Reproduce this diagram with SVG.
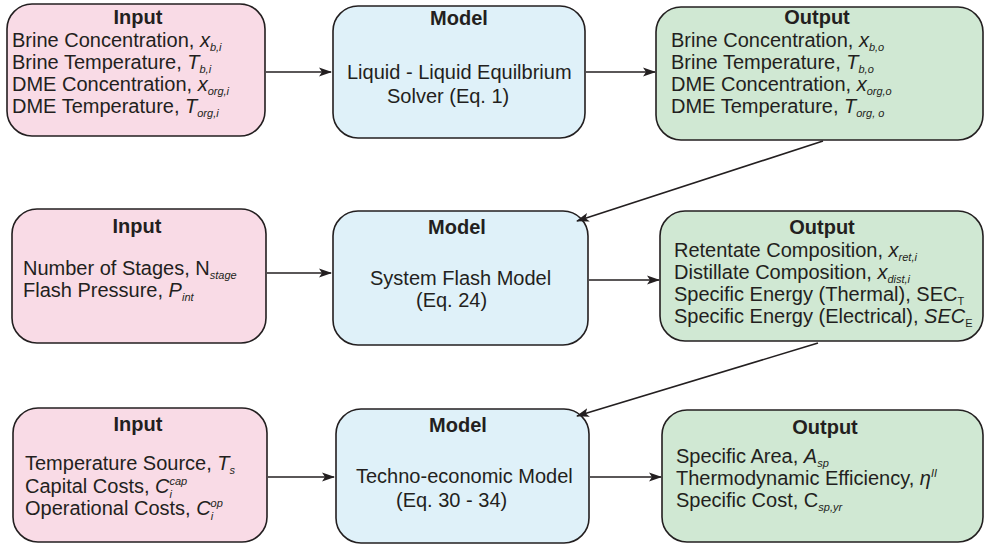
<svg xmlns="http://www.w3.org/2000/svg" width="985" height="544" viewBox="0 0 985 544">
  <style>
    text { font-family: "Liberation Sans", Arial, sans-serif; font-size: 20px; fill: #231f20; }
    .title { font-weight: bold; text-anchor: middle; }
    .box { stroke: #231f20; stroke-width: 1.6; }
    .in { fill: #f9dbe6; }
    .mod { fill: #dff1f9; }
    .out { fill: #d0e8d3; }
    .i { font-style: italic; }
    .s { font-size: 11px; font-style: italic; }
    .su { font-size: 11px; }
    .conn { stroke: #231f20; stroke-width: 1.6; fill: none; marker-end: url(#arr); }
  </style>
  <defs>
    <marker id="arr" viewBox="0 0 13 10" refX="12" refY="5" markerWidth="13" markerHeight="10" markerUnits="userSpaceOnUse" orient="auto">
      <path d="M0,0.5 L13,5 L0,9.5 L3,5 Z" fill="#231f20"/>
    </marker>
  </defs>

  <!-- Stage 1: liquid-liquid equilibrium -->
  <g id="input1">
    <rect class="box in" x="7" y="4" width="258" height="132" rx="25"/>
    <text class="title" x="138" y="24">Input</text>
    <text x="12" y="47">Brine Concentration, <tspan class="i">x</tspan><tspan class="s" dy="4">b,i</tspan></text>
    <text x="12" y="69">Brine Temperature, <tspan class="i">T</tspan><tspan class="s" dy="4">b,i</tspan></text>
    <text x="12" y="91">DME Concentration, <tspan class="i">x</tspan><tspan class="s" dy="4">org,i</tspan></text>
    <text x="12" y="113">DME Temperature, <tspan class="i">T</tspan><tspan class="s" dy="4">org,i</tspan></text>
  </g>
  <g id="model1">
    <rect class="box mod" x="333" y="6" width="252" height="132" rx="25"/>
    <text class="title" x="459" y="25">Model</text>
    <text x="347" y="79">Liquid - Liquid Equilbrium</text>
    <text x="387" y="103">Solver (Eq. 1)</text>
  </g>
  <g id="output1">
    <rect class="box out" x="656" y="7" width="327" height="133" rx="25"/>
    <text class="title" x="817" y="24">Output</text>
    <text x="671" y="47">Brine Concentration, <tspan class="i">x</tspan><tspan class="s" dy="4">b,o</tspan></text>
    <text x="671" y="69">Brine Temperature, <tspan class="i">T</tspan><tspan class="s" dy="4">b,o</tspan></text>
    <text x="671" y="91">DME Concentration, <tspan class="i">x</tspan><tspan class="s" dy="4">org,o</tspan></text>
    <text x="671" y="113">DME Temperature, <tspan class="i">T</tspan><tspan class="s" dy="4">org, o</tspan></text>
  </g>

  <!-- Stage 2: flash system -->
  <g id="input2">
    <rect class="box in" x="12" y="209" width="254" height="134" rx="25"/>
    <text class="title" x="137" y="233">Input</text>
    <text x="23" y="275">Number of Stages, N<tspan class="s" dy="4">stage</tspan></text>
    <text x="23" y="297">Flash Pressure, <tspan class="i">P</tspan><tspan class="s" dy="4">int</tspan></text>
  </g>
  <g id="model2">
    <rect class="box mod" x="333" y="211" width="255" height="134" rx="25"/>
    <text class="title" x="457" y="234">Model</text>
    <text x="370" y="285">System Flash Model</text>
    <text x="416" y="307">(Eq. 24)</text>
  </g>
  <g id="output2">
    <rect class="box out" x="660" y="211" width="323" height="130" rx="25"/>
    <text class="title" x="822" y="234">Output</text>
    <text x="674" y="257">Retentate Composition, <tspan class="i">x</tspan><tspan class="s" dy="4">ret,i</tspan></text>
    <text x="674" y="279">Distillate Composition, <tspan class="i">x</tspan><tspan class="s" dy="4">dist,i</tspan></text>
    <text x="674" y="301">Specific Energy (Thermal), SEC<tspan class="su" dy="4">T</tspan></text>
    <text x="674" y="323">Specific Energy (Electrical), <tspan class="i">SEC</tspan><tspan class="su" dy="4">E</tspan></text>
  </g>

  <!-- Stage 3: techno-economics -->
  <g id="input3">
    <rect class="box in" x="13" y="408" width="254" height="134" rx="25"/>
    <text class="title" x="138" y="431">Input</text>
    <text x="25" y="470">Temperature Source, <tspan class="i">T</tspan><tspan class="s" dy="4">s</tspan></text>
    <text x="25" y="493">Capital Costs, <tspan class="i">C</tspan><tspan class="s" dy="5">i</tspan><tspan class="s" dx="-2.5" dy="-13">cap</tspan></text>
    <text x="25" y="515">Operational Costs, <tspan class="i">C</tspan><tspan class="s" dy="5">i</tspan><tspan class="s" dx="-2.5" dy="-13">op</tspan></text>
  </g>
  <g id="model3">
    <rect class="box mod" x="336" y="409" width="253" height="134" rx="25"/>
    <text class="title" x="458" y="432">Model</text>
    <text x="356" y="483">Techno-economic Model</text>
    <text x="396" y="507">(Eq. 30 - 34)</text>
  </g>
  <g id="output3">
    <rect class="box out" x="662" y="410" width="321" height="132" rx="25"/>
    <text class="title" x="825" y="434">Output</text>
    <text x="676" y="463">Specific Area, <tspan class="i">A</tspan><tspan class="s" dy="4">sp</tspan></text>
    <text x="676" y="485">Thermodynamic Efficiency, <tspan class="i">η</tspan><tspan class="s" dy="-8">II</tspan></text>
    <text x="676" y="507">Specific Cost, C<tspan class="s" dy="4">sp,yr</tspan></text>
  </g>

  <g id="connectors">
    <line class="conn" x1="266" y1="72" x2="331" y2="72"/>
    <line class="conn" x1="586" y1="72" x2="655" y2="72"/>
    <line class="conn" x1="823" y1="141" x2="577" y2="221"/>
    <line class="conn" x1="267" y1="273" x2="331" y2="273"/>
    <line class="conn" x1="589" y1="280" x2="659" y2="280"/>
    <line class="conn" x1="818" y1="343" x2="577" y2="416"/>
    <line class="conn" x1="268" y1="477" x2="334" y2="477"/>
    <line class="conn" x1="590" y1="477" x2="661" y2="477"/>
  </g>
</svg>
